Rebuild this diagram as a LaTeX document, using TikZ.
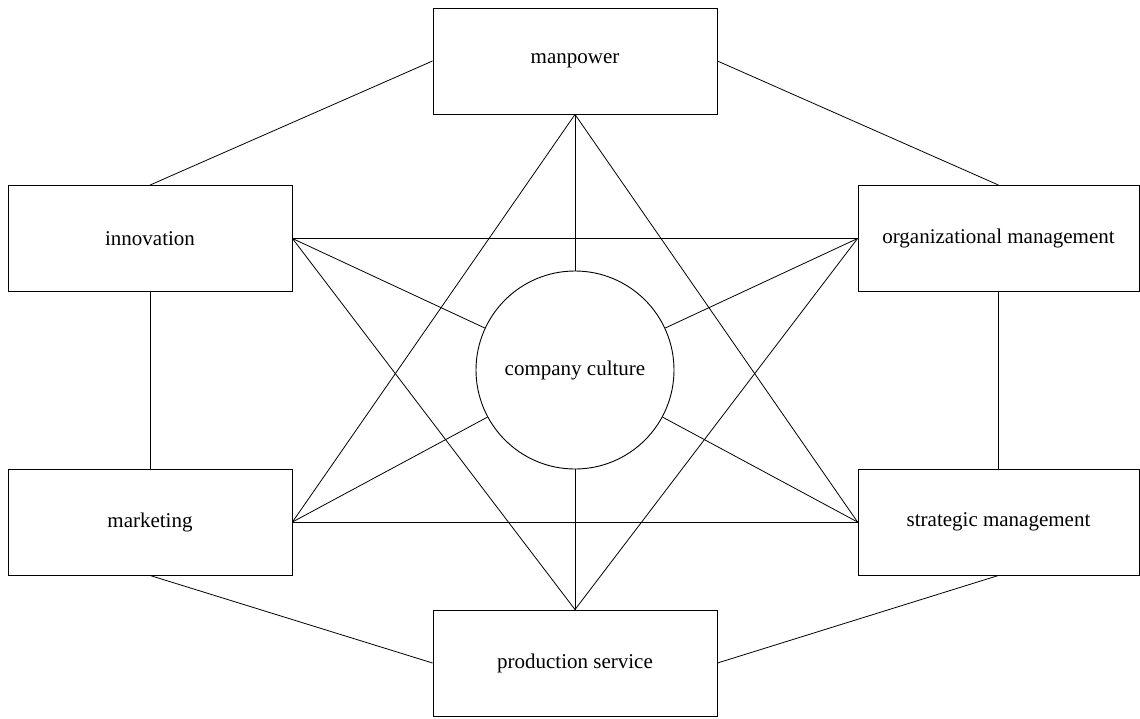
\documentclass[tikz,border=0pt]{standalone}
\usepackage{fontspec}
\setmainfont{Liberation Serif}
\begin{document}
\begin{tikzpicture}[x=1pt,y=-1pt,
  box/.style={draw,line width=0.9pt,minimum width=284pt,minimum height=106pt,inner sep=0pt,font=\fontsize{21}{24}\selectfont},
  hub/.style={draw,line width=0.9pt,circle,minimum size=198pt,inner sep=0pt,font=\fontsize{21}{24}\selectfont},
  link/.style={line width=0.8pt}]
\useasboundingbox (0,0) rectangle (1140,718);
\node[box] (man) at (575,61) {manpower};
\node[box] (inn) at (150,238.5) {innovation};
\node[box,minimum width=281pt] (org) at (998.5,238.5) {organizational management};
\node[box] (mkt) at (150,522) {marketing};
\node[box,minimum width=281pt] (str) at (998.5,522) {strategic management};
\node[box] (pro) at (575,663) {production service};
\node[hub] (cc) at (575,370) {company culture};
\draw[link] (man.west) -- (inn.north);
\draw[link] (man.east) -- (org.north);
\draw[link] (inn.south) -- (mkt.north);
\draw[link] (org.south) -- (str.north);
\draw[link] (mkt.south) -- (pro.west);
\draw[link] (str.south) -- (pro.east);
\draw[link] (inn.east) -- (org.west);
\draw[link] (mkt.east) -- (str.west);
\draw[link] (man.south) -- (mkt.east);
\draw[link] (man.south) -- (str.west);
\draw[link] (pro.north) -- (inn.east);
\draw[link] (pro.north) -- (org.west);
\draw[link] (man.south) -- (cc);
\draw[link] (pro.north) -- (cc);
\draw[link] (inn.east) -- (cc);
\draw[link] (org.west) -- (cc);
\draw[link] (mkt.east) -- (cc);
\draw[link] (str.west) -- (cc);
\end{tikzpicture}
\end{document}
